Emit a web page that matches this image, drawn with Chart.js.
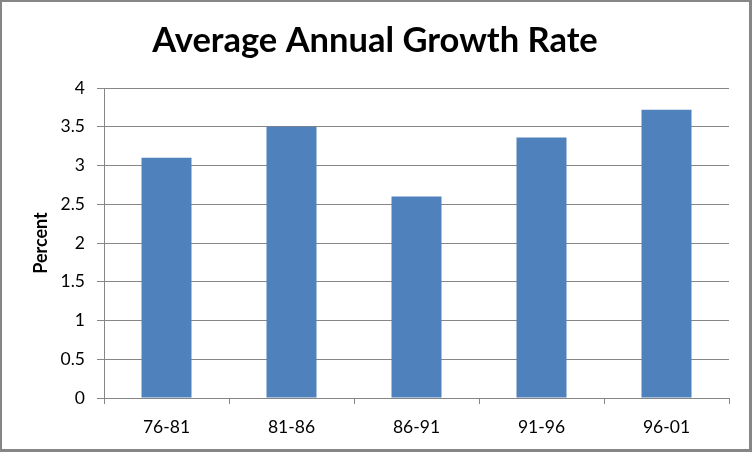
<!DOCTYPE html>
<html>
<head>
<meta charset="utf-8">
<script src="https://cdn.jsdelivr.net/npm/chart.js@4"></script>
<style>
  html, body { margin: 0; padding: 0; background: #fff; }
  #wrap { width: 752px; height: 452px; position: relative; }
</style>
</head>
<body>
<div id="wrap"><canvas id="grafico" width="752" height="452"></canvas></div>
<script>
// Dados
const periodos = ['76-81', '81-86', '86-91', '91-96', '96-01'];
const taxas = [3.1, 3.5, 2.6, 3.36, 3.72];
const titulo = 'Average Annual Growth Rate';
const tituloEixoY = 'Percent';

const cinza = '#868686';
const fonte = 'Lato, "Open Sans", sans-serif';

// moldura cinza em volta do grafico + titulo centrado na figura toda
const moldura = {
    id: 'moldura',
    afterLayout(chart){
        const t = chart.titleBlock;
        if(t){ t.left = 0; t.right = 750; t.width = 750; }
    },
    beforeDraw(chart){
        const c = chart.ctx;
        c.save();
        c.fillStyle = '#fff';
        c.fillRect(0, 0, 752, 452);
        c.fillStyle = cinza;
        c.fillRect(0, 0, 752, 2);
        c.fillRect(0, 0, 2, 452);
        c.fillRect(749, 0, 3, 452);
        c.fillRect(0, 449, 752, 3);
        c.restore();
    }
};

new Chart(document.getElementById('grafico'), {
    type: 'bar',
    data: {
        labels: periodos,
        datasets: [{ data: taxas, backgroundColor: '#4F81BD', barPercentage: 0.4, categoryPercentage: 1.0 }]
    },
    options: {
        responsive: false,
        animation: false,
        layout: { padding: { top: 0, right: 23, bottom: 0, left: 0 } },
        plugins: {
            legend: { display: false },
            tooltip: { enabled: false },
            title: {
                display: true,
                text: titulo,
                color: '#000',
                font: { family: fonte, size: 34.5, weight: 'bold' },
                padding: { top: 20, bottom: 26.6 }
            }
        },
        scales: {
            x: {
                grid: { drawOnChartArea: false, color: cinza, tickLength: 6 },
                border: { color: cinza },
                ticks: { color: '#000', font: { family: fonte, size: 17.5 }, padding: 13 },
                afterFit: s => { s.height = 54; }
            },
            y: {
                min: 0, max: 4,
                grid: { color: cinza, tickLength: 7 },
                border: { color: cinza },
                ticks: {
                    stepSize: 0.5, color: '#000', font: { family: fonte, size: 17.5 }, padding: 12,
                    callback: v => String(v)
                },
                title: {
                    display: true,
                    text: tituloEixoY,
                    color: '#000',
                    font: { family: fonte, size: 18, weight: 'bold' },
                    padding: { top: 30, bottom: 0 }
                },
                afterFit: s => { s.width = 104; }
            }
        }
    },
    plugins: [moldura]
});
</script>
</body>
</html>
